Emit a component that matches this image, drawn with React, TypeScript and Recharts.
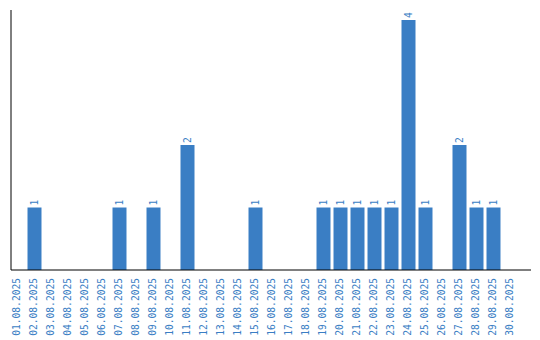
import React from "react";
import { BarChart, Bar, XAxis, YAxis, LabelList } from "recharts";

const days = [
  "01.08.2025", "02.08.2025", "03.08.2025", "04.08.2025", "05.08.2025",
  "06.08.2025", "07.08.2025", "08.08.2025", "09.08.2025", "10.08.2025",
  "11.08.2025", "12.08.2025", "13.08.2025", "14.08.2025", "15.08.2025",
  "16.08.2025", "17.08.2025", "18.08.2025", "19.08.2025", "20.08.2025",
  "21.08.2025", "22.08.2025", "23.08.2025", "24.08.2025", "25.08.2025",
  "26.08.2025", "27.08.2025", "28.08.2025", "29.08.2025", "30.08.2025",
];

const counts = [
  0, 1, 0, 0, 0, 0, 1, 0, 1, 0,
  2, 0, 0, 0, 1, 0, 0, 0, 1, 1,
  1, 1, 1, 4, 1, 0, 2, 1, 1, 0,
];

const data = days.map((day, i) => ({ day, count: counts[i] }));

const BLUE = "#3a7ec4";
const FONT = "'DejaVu Sans Mono', monospace";

function DayTick(props: any) {
  const { x, y, payload } = props;
  return (
    <text
      x={x}
      y={y}
      transform={`rotate(-90, ${x}, ${y})`}
      textAnchor="end"
      dy="0.35em"
      fill={BLUE}
      fontSize={9.6}
      fontFamily={FONT}
    >
      {payload.value}
    </text>
  );
}

function CountLabel(props: any) {
  const { x, y, width, value } = props;
  if (!value) return null;
  const cx = x + width / 2;
  const cy = y - 2;
  return (
    <text
      x={cx}
      y={cy}
      transform={`rotate(-90, ${cx}, ${cy})`}
      textAnchor="start"
      dy="0.35em"
      fill={BLUE}
      fontSize={9.6}
      fontFamily={FONT}
    >
      {value}
    </text>
  );
}

export default function App() {
  return (
    <div style={{ position: "absolute", left: 0, top: 0, width: 540, height: 340, background: "#fff" }}>
      <BarChart
        width={540}
        height={340}
        data={data}
        margin={{ top: 10, right: 9, bottom: 0, left: 10 }}
      >
        <XAxis
          dataKey="day"
          interval={0}
          tickLine={false}
          tickSize={0}
          axisLine={{ stroke: "#000" }}
          tick={<DayTick />}
          tickMargin={8}
          height={70}
          padding={{ left: -2.5, right: 12.5 }}
        />
        <YAxis
          width={1}
          domain={[0, 4.16]}
          tick={false}
          tickLine={false}
          axisLine={{ stroke: "#000" }}
        />
        <Bar dataKey="count" fill={BLUE} barSize={14} isAnimationActive={false}>
          <LabelList dataKey="count" content={<CountLabel />} />
        </Bar>
      </BarChart>
    </div>
  );
}
